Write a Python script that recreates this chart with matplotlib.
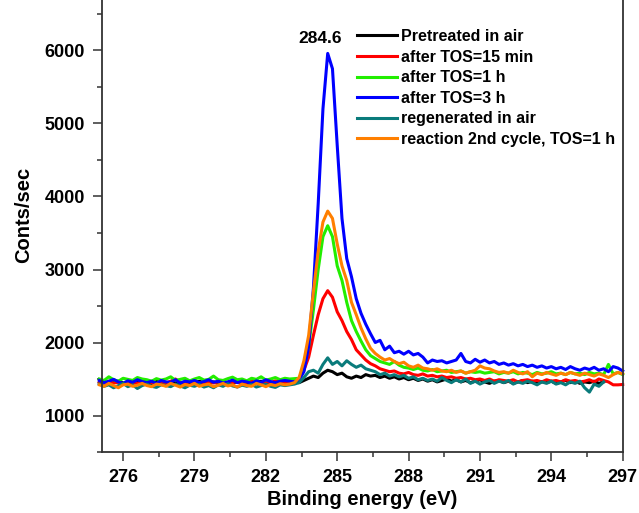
import numpy as np
import matplotlib
matplotlib.use("Agg")
import matplotlib.pyplot as plt
from matplotlib.ticker import MultipleLocator

# Binding energy grid (eV), 0.2 eV steps
energy = np.round(np.arange(275.0, 297.001, 0.2), 1)

pretreated = [
    1440, 1465, 1430, 1455, 1470, 1445, 1425, 1450, 1460, 1435,
    1455, 1440, 1470, 1450, 1430, 1445, 1465, 1440, 1455, 1430,
    1450, 1470, 1445, 1435, 1460, 1450, 1425, 1455, 1440, 1465,
    1445, 1430, 1460, 1450, 1470, 1440, 1455, 1435, 1465, 1450,
    1445, 1460, 1450, 1480, 1510, 1540, 1520, 1580, 1620, 1600,
    1560, 1580, 1530, 1510, 1540, 1520, 1560, 1540, 1550, 1520,
    1540, 1510, 1530, 1500, 1520, 1490, 1510, 1480, 1500, 1470,
    1490, 1460, 1480, 1500, 1470, 1490, 1460, 1480, 1450, 1470,
    1490, 1460, 1440, 1470, 1480, 1450, 1470, 1440, 1460, 1480,
    1450, 1470, 1440, 1465, 1450, 1470, 1440, 1460, 1480, 1450,
    1470, 1440, 1460, 1450, 1470, 1440, 1460,
]

tos_15min = [
    1460, 1440, 1470, 1445, 1455, 1430, 1465, 1450, 1440, 1460,
    1475, 1450, 1435, 1460, 1445, 1470, 1500, 1455, 1440, 1465,
    1450, 1430, 1455, 1470, 1445, 1460, 1435, 1420, 1450, 1465,
    1440, 1455, 1470, 1445, 1430, 1460, 1450, 1475, 1455, 1445,
    1460, 1470, 1500, 1620, 1800, 2100, 2380, 2600, 2710, 2620,
    2420, 2300, 2150, 2040, 1900, 1830, 1760, 1710, 1680, 1640,
    1620, 1600, 1610, 1580, 1570, 1590, 1560, 1550, 1570, 1540,
    1550, 1530, 1540, 1520, 1530, 1510, 1520, 1500, 1510, 1490,
    1500, 1480, 1500, 1470, 1490, 1480, 1470, 1490, 1460, 1480,
    1490, 1470, 1480, 1460, 1490, 1470, 1480, 1460, 1490, 1470,
    1480, 1460, 1470, 1490, 1460, 1500, 1480, 1460, 1420, 1420,
    1425,
]

tos_1h = [
    1500, 1480, 1530, 1490, 1470, 1510, 1495, 1480, 1520, 1500,
    1490, 1470, 1505, 1485, 1500, 1530, 1480, 1495, 1510, 1475,
    1500, 1520, 1485, 1495, 1540, 1490, 1480, 1505, 1525, 1490,
    1500, 1475, 1510, 1495, 1530, 1485, 1500, 1520, 1490, 1510,
    1500, 1505, 1510, 1650, 1950, 2450, 3000, 3450, 3600, 3450,
    3050, 2850, 2550, 2300, 2150, 2020, 1900, 1820, 1780, 1740,
    1720, 1700, 1740, 1690, 1660, 1650, 1630, 1650, 1620, 1610,
    1630, 1600, 1610, 1620, 1590, 1600, 1610, 1580, 1600, 1590,
    1600, 1580, 1590, 1600, 1570, 1590, 1580, 1600, 1570, 1590,
    1580, 1560, 1590, 1570, 1580, 1600, 1570, 1580, 1560, 1590,
    1570, 1580, 1560, 1590, 1570, 1580, 1560, 1700, 1570, 1590,
    1560,
]

tos_3h = [
    1480, 1450, 1470, 1495, 1460, 1440, 1475, 1455, 1490, 1465,
    1450, 1470, 1440, 1480, 1460, 1455, 1490, 1445, 1470, 1460,
    1480, 1450, 1465, 1490, 1455, 1470, 1445, 1460, 1485, 1450,
    1470, 1460, 1440, 1475, 1455, 1490, 1465, 1450, 1470, 1480,
    1470, 1460, 1490, 1600, 1950, 2750, 3900, 5200, 5960, 5750,
    4700, 3700, 3150, 2900, 2600, 2400, 2250, 2120, 2000, 2030,
    1900, 1950, 1860, 1880, 1840, 1880, 1830, 1850, 1800, 1720,
    1760, 1740, 1750, 1720, 1740, 1760, 1850, 1740, 1720, 1770,
    1730, 1760, 1720, 1740, 1700, 1720, 1690, 1710, 1680, 1700,
    1670, 1690, 1660, 1680, 1650, 1670, 1640, 1660, 1630, 1670,
    1640, 1620, 1650, 1630, 1660, 1620, 1640, 1600, 1670, 1650,
    1610,
]

regenerated = [
    1430, 1400, 1420, 1380, 1410, 1440, 1395, 1420, 1370, 1410,
    1430, 1400, 1385, 1420, 1410, 1395, 1430, 1405, 1380, 1415,
    1400, 1425, 1390, 1410, 1380, 1420, 1400, 1435, 1405, 1390,
    1415, 1400, 1425, 1390, 1410, 1430, 1400, 1385, 1420, 1410,
    1420, 1430, 1450, 1520, 1600, 1620, 1580, 1700, 1790, 1700,
    1740, 1680, 1750, 1700, 1660, 1690, 1640, 1620, 1600, 1560,
    1580, 1540, 1560, 1530, 1550, 1510, 1530, 1490, 1510, 1480,
    1500, 1470, 1520, 1480, 1450, 1490, 1460, 1500, 1440, 1470,
    1430, 1460, 1480, 1440, 1470, 1450, 1480, 1430, 1460, 1440,
    1470, 1450, 1420, 1460, 1440, 1470, 1430, 1450, 1420, 1460,
    1440, 1470, 1380, 1320, 1430, 1400, 1460,
]

second_cycle = [
    1420, 1400, 1440, 1410, 1380, 1420, 1430, 1400, 1415, 1440,
    1410, 1395, 1430, 1420, 1400, 1440, 1415, 1390, 1425, 1410,
    1440, 1400, 1420, 1430, 1395, 1415, 1440, 1405, 1420, 1390,
    1430, 1410, 1400, 1440, 1420, 1395, 1425, 1410, 1435, 1420,
    1430, 1450, 1520, 1750, 2100, 2700, 3250, 3650, 3800, 3700,
    3350, 3050, 2850, 2550, 2380, 2200, 2050, 1920, 1850, 1800,
    1760, 1780, 1740, 1710, 1730, 1680, 1660, 1690, 1650, 1640,
    1620, 1640, 1610, 1600, 1620, 1590, 1610, 1580, 1600, 1620,
    1680, 1650, 1640, 1610, 1590, 1600, 1580, 1620, 1590, 1570,
    1600, 1530, 1580, 1560, 1590, 1570, 1550, 1580, 1560, 1590,
    1570, 1550, 1580, 1560, 1540, 1570, 1550, 1520, 1560, 1590,
    1570,
]

labels = ["Pretreated in air", "after TOS=15 min", "after TOS=1 h",
          "after TOS=3 h", "regenerated in air", "reaction 2nd cycle, TOS=1 h"]
series = [pretreated, tos_15min, tos_1h, tos_3h, regenerated, second_cycle]
colors = ["#000000", "#ff0000", "#22ee00", "#0000ff", "#0a7b7b", "#ff7f00"]

xticks = [276, 279, 282, 285, 288, 291, 294, 297]
yticks = [1000, 2000, 3000, 4000, 5000, 6000]
peak_label = "284.6"
peak_pos = (284.3, 6170)

plt.rcParams['font.family'] = ['Liberation Sans', 'DejaVu Sans']
plt.rcParams['font.weight'] = 'bold'

W, H = 639, 513
fig = plt.figure(figsize=(W / 100, H / 100), dpi=100)
left_px, right_px, bottom_px = 101.7, 622.7, 452
ymin, ymax = 500, 7000
px_per_unit = 73 / 1000
top_px = bottom_px - (ymax - ymin) * px_per_unit
ax = fig.add_axes([left_px / W, 1 - bottom_px / H,
                   (right_px - left_px) / W, (bottom_px - top_px) / H])

for y, c, lab in zip(series, colors, labels):
    ax.plot(energy[:len(y)], y, color=c, lw=2.2, label=lab, clip_on=False,
            solid_joinstyle='round')

ax.set_xlim(275.1, 297)
ax.set_ylim(ymin, ymax)
ax.set_xticks(xticks)
ax.set_yticks(yticks)
ax.xaxis.set_minor_locator(MultipleLocator(1.5))
ax.yaxis.set_minor_locator(MultipleLocator(500))
ax.tick_params(which='both', direction='out', top=False, right=False,
               color='#333333', width=1.1)
ax.tick_params(which='major', length=6.5, labelsize=13)
ax.tick_params(axis='x', which='major', pad=6)
ax.tick_params(axis='y', which='major', pad=5.5)
ax.tick_params(which='minor', length=3.4)
for lab in ax.get_xticklabels() + ax.get_yticklabels():
    lab.set_fontweight('bold')
for s in ax.spines.values():
    s.set_color('#333333')
    s.set_linewidth(1.3)
ax.spines['top'].set_visible(False)

ax.set_xlabel("Binding energy (eV)", fontsize=14.5, fontweight='bold', labelpad=2.5)
ax.set_ylabel("Conts/sec", fontsize=14.5, fontweight='bold', labelpad=8)

ax.text(peak_pos[0], peak_pos[1], peak_label, ha='center', va='center',
        fontsize=12.5, fontweight='bold')

leg = ax.legend(loc='upper left', bbox_to_anchor=(357 / W, 1 - 29 / H),
                bbox_transform=fig.transFigure, frameon=False,
                prop={'size': 11.5, 'weight': 'bold'}, handlelength=2.5,
                handletextpad=0.25, labelspacing=0.35, borderpad=0,
                borderaxespad=0)

fig.savefig("out.png", dpi=100)
